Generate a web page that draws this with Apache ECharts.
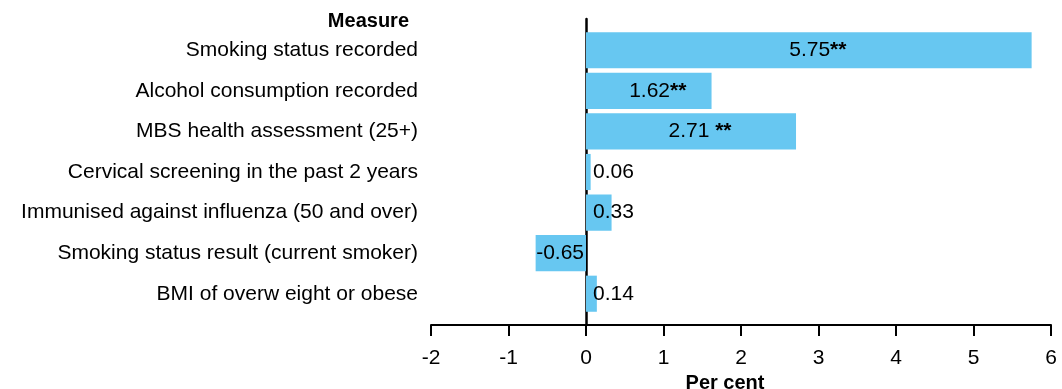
<!DOCTYPE html>
<html>
<head>
<meta charset="utf-8">
<script src="https://cdn.jsdelivr.net/npm/echarts@6/dist/echarts.min.js"></script>
<style>html,body{margin:0;padding:0;background:#fff;}#c{width:1062px;height:389px;}</style>
</head>
<body>
<div id="c"></div>
<script>
var measures = [
  'Smoking status recorded',
  'Alcohol consumption recorded',
  'MBS health assessment (25+)',
  'Cervical screening in the past 2 years',
  'Immunised against influenza (50 and over)',
  'Smoking status result (current smoker)',
  'BMI of overw eight or obese'
];
var values = [5.75, 1.62, 2.71, 0.06, 0.33, -0.65, 0.14];
var significance = ['**', '**', ' **', '', '', '', ''];
var xTicks = [-2, -1, 0, 1, 2, 3, 4, 5, 6];

var FONT = '"Liberation Sans", Arial, sans-serif';
var barColor = '#67c7f1';

var barData = values.map(function (v, i) {
  var sig = significance[i];
  var label;
  if (sig) {
    label = { position: 'inside', offset: [9, 0] };
  } else if (v < 0) {
    label = { position: 'insideRight', distance: 2 };
  } else {
    label = { position: 'insideLeft', distance: 7 };
  }
  return { value: v, label: label };
});

var chart = echarts.init(document.getElementById('c'), null, { renderer: 'canvas' });
chart.setOption({
  animation: false,
  backgroundColor: '#fff',
  textStyle: { fontFamily: FONT },
  title: {
    text: 'Measure',
    right: 1062 - 409 - 5,
    top: 6,
    textStyle: { fontFamily: FONT, fontSize: 20, fontWeight: 'bold', color: '#000' }
  },
  grid: [
    { left: 431, right: 11, top: 19, bottom: 389 - 325, containLabel: false, outerBoundsMode: 'none' },
    { left: 431, right: 11, top: 30, bottom: 389 - 314, containLabel: false, outerBoundsMode: 'none' }
  ],
  xAxis: [
    {
      gridIndex: 0, type: 'value', min: -2, max: 6, interval: 1,
      splitLine: { show: false },
      axisLine: { show: true, lineStyle: { color: '#000', width: 2 } },
      axisTick: { show: true, inside: false, length: 11, lineStyle: { color: '#000', width: 2 } },
      axisLabel: {
        show: true, margin: 23, color: '#000', fontSize: 21, fontFamily: FONT,
        customValues: xTicks,
        formatter: function (v) { return String(v); }
      },
      name: 'Per cent',
      nameLocation: 'middle',
      nameGap: 38,
      nameTextStyle: { fontFamily: FONT, fontSize: 20, fontWeight: 'bold', color: '#000', padding: [0, 32, 0, 0] }
    },
    {
      gridIndex: 1, type: 'value', min: -2, max: 6, interval: 1, show: false
    }
  ],
  yAxis: [
    {
      gridIndex: 0, type: 'category', data: [''],
      axisLine: { show: true, onZero: true, lineStyle: { color: '#000', width: 2.5 } },
      axisTick: { show: false },
      axisLabel: { show: false },
      splitLine: { show: false }
    },
    {
      gridIndex: 1, type: 'category', data: measures, inverse: true,
      axisLine: { show: false, onZero: false },
      axisTick: { show: false },
      axisLabel: { show: true, margin: 13, color: '#000', fontSize: 21, fontFamily: FONT }
    }
  ],
  series: [
    {
      type: 'bar',
      xAxisIndex: 1, yAxisIndex: 1,
      data: barData,
      barCategoryGap: '11%',
      itemStyle: { color: barColor },
      z: 1,
      label: {
        show: true, color: '#000', fontSize: 21, fontFamily: FONT,
        formatter: function (p) {
          var s = significance[p.dataIndex];
          return p.value.toFixed(2) + (s ? '{b|' + s + '}' : '');
        },
        rich: { b: { fontSize: 21, fontWeight: 'bold', color: '#000', fontFamily: FONT } }
      }
    }
  ]
});
</script>
</body>
</html>
